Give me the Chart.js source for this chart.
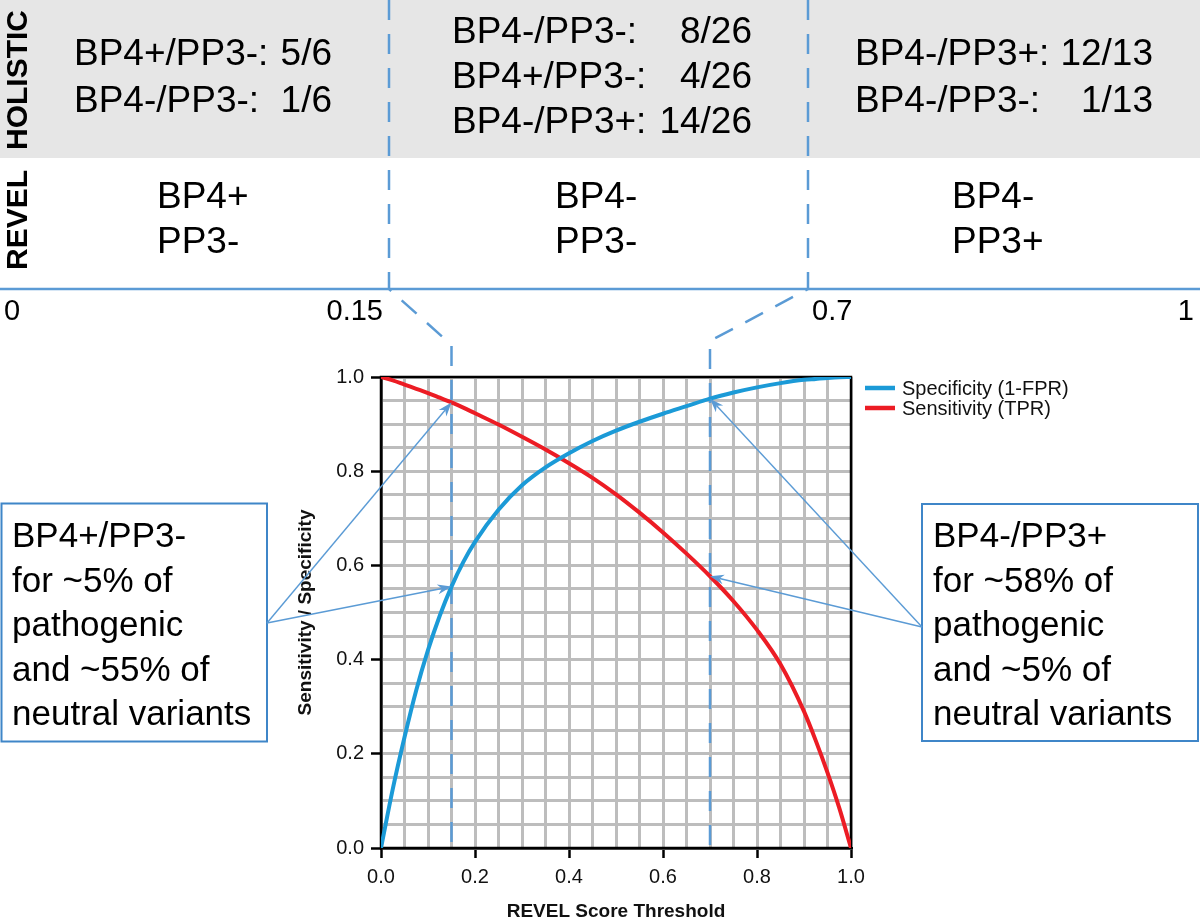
<!DOCTYPE html>
<html>
<head>
<meta charset="utf-8">
<title>REVEL thresholds</title>
<script src="https://cdn.jsdelivr.net/npm/chart.js@4.4.1/dist/chart.umd.min.js"></script>
<style>
  html, body { margin: 0; padding: 0; background: #fff; }
  #wrap { width: 1200px; height: 921px; }
</style>
</head>
<body>
<div id="wrap"><canvas id="roc" width="1200" height="921"></canvas></div>
<script>
// values
var thresholds  = [0, 0.025, 0.05, 0.075, 0.1, 0.125, 0.15, 0.175, 0.2, 0.25, 0.3, 0.35, 0.4, 0.45, 0.5, 0.55, 0.6, 0.65, 0.7, 0.75, 0.8, 0.85, 0.9, 0.925, 0.95, 0.975, 1];
var specificity = [0, 0.125, 0.235, 0.335, 0.42, 0.493, 0.555, 0.607, 0.65, 0.718, 0.77, 0.808, 0.838, 0.864, 0.886, 0.905, 0.922, 0.938, 0.954, 0.967, 0.978, 0.987, 0.994, 0.996, 0.998, 0.9995, 1];
var sensitivity = [1, 0.993, 0.984, 0.975, 0.966, 0.956, 0.946, 0.935, 0.923, 0.899, 0.873, 0.846, 0.817, 0.786, 0.751, 0.712, 0.67, 0.625, 0.577, 0.524, 0.463, 0.39, 0.29, 0.228, 0.16, 0.085, 0];
var seriesNames = ['Specificity (1-FPR)', 'Sensitivity (TPR)'];

var cutoffs = [0.15, 0.7];
var topTickLabels = ['0', '0.15', '0.7', '1'];

var holisticRows = [
  [['BP4+/PP3-:', '5/6'], ['BP4-/PP3-:', '1/6']],
  [['BP4-/PP3-:', '8/26'], ['BP4+/PP3-:', '4/26'], ['BP4-/PP3+:', '14/26']],
  [['BP4-/PP3+:', '12/13'], ['BP4-/PP3-:', '1/13']]
];
var revelCalls = [['BP4+', 'PP3-'], ['BP4-', 'PP3-'], ['BP4-', 'PP3+']];
var noteLeft  = ['BP4+/PP3-', 'for ~5% of', 'pathogenic', 'and ~55% of', 'neutral variants'];
var noteRight = ['BP4-/PP3+', 'for ~58% of', 'pathogenic', 'and ~5% of', 'neutral variants'];

var FONT = '"Liberation Sans", Arial, sans-serif';
var LINK_BLUE = '#5b9bd5';
var BOX_BLUE = '#3f86c8';
var SPEC_COLOR = '#1b9ad7';
var SENS_COLOR = '#ec1c24';

function isMajor(v) {
  var r = v / 0.2;
  return Math.abs(r - Math.round(r)) < 1e-6;
}

function points(ys) {
  var out = [];
  for (var i = 0; i < thresholds.length; i++) out.push({x: thresholds[i], y: ys[i]});
  return out;
}

function valueAt(ys, t) {
  for (var i = 0; i < thresholds.length; i++) {
    if (Math.abs(thresholds[i] - t) < 1e-9) return ys[i];
  }
  return null;
}

function arrow(ctx, x0, y0, x1, y1) {
  var a = Math.atan2(y1 - y0, x1 - x0);
  var len = 14, half = 5;
  ctx.beginPath();
  ctx.moveTo(x0, y0);
  ctx.lineTo(x1 - Math.cos(a) * len * 0.7, y1 - Math.sin(a) * len * 0.7);
  ctx.stroke();
  ctx.beginPath();
  ctx.moveTo(x1, y1);
  ctx.lineTo(x1 - Math.cos(a) * len - Math.sin(a) * half, y1 - Math.sin(a) * len + Math.cos(a) * half);
  ctx.lineTo(x1 - Math.cos(a) * len * 0.7, y1 - Math.sin(a) * len * 0.7);
  ctx.lineTo(x1 - Math.cos(a) * len + Math.sin(a) * half, y1 - Math.sin(a) * len - Math.cos(a) * half);
  ctx.closePath();
  ctx.fill();
}

// where the cutoffs sit on the schematic axis at the top
var topCutX = [389, 808];

var overlay = {
  id: 'overlay',
  beforeDraw: function (chart) {
    var ctx = chart.ctx;
    ctx.save();
    ctx.fillStyle = '#fff';
    ctx.fillRect(0, 0, chart.width, chart.height);
    ctx.fillStyle = '#e6e6e6';
    ctx.fillRect(0, 0, chart.width, 158);
    ctx.restore();
  },
  beforeDatasetsDraw: function (chart) {
    var ctx = chart.ctx, area = chart.chartArea, xs = chart.scales.x;
    ctx.save();
    // frame
    ctx.strokeStyle = '#000';
    ctx.lineWidth = 2.5;
    ctx.strokeRect(area.left, area.top, area.right - area.left, area.bottom - area.top);
    // dashed cutoff lines, from the top schematic down through the plot
    var bendY = [345, 341];
    ctx.strokeStyle = LINK_BLUE;
    ctx.lineWidth = 2.5;
    ctx.setLineDash([20, 14]);
    for (var i = 0; i < cutoffs.length; i++) {
      var px = xs.getPixelForValue(cutoffs[i]);
      ctx.beginPath();
      ctx.moveTo(topCutX[i], 0);
      ctx.lineTo(topCutX[i], 289);
      ctx.lineTo(px, bendY[i]);
      ctx.lineTo(px, area.bottom);
      ctx.stroke();
    }
    ctx.restore();
  },
  afterDraw: function (chart) {
    var ctx = chart.ctx, xs = chart.scales.x, ys = chart.scales.y;
    var i, j;
    ctx.save();

    // schematic axis
    ctx.strokeStyle = LINK_BLUE;
    ctx.lineWidth = 2.5;
    ctx.beginPath();
    ctx.moveTo(0, 289);
    ctx.lineTo(1200, 289);
    ctx.stroke();

    ctx.fillStyle = '#000';
    ctx.textBaseline = 'alphabetic';
    ctx.font = '29px ' + FONT;
    var tickPos = [[4, 'left'], [383, 'right'], [812, 'left'], [1194, 'right']];
    for (i = 0; i < topTickLabels.length; i++) {
      ctx.textAlign = tickPos[i][1];
      ctx.fillText(topTickLabels[i], tickPos[i][0], 320);
    }

    // row titles
    ctx.font = 'bold 30px ' + FONT;
    ctx.textAlign = 'center';
    ctx.textBaseline = 'middle';
    [['HOLISTIC', 80], ['REVEL', 220]].forEach(function (r) {
      ctx.save();
      ctx.translate(19, r[1]);
      ctx.rotate(-Math.PI / 2);
      ctx.fillText(r[0], 0, 0);
      ctx.restore();
    });

    // holistic counts
    ctx.font = '37px ' + FONT;
    ctx.textBaseline = 'alphabetic';
    var colL = [74, 452, 855], colR = [332, 752, 1153];
    var rowY = [[65, 112], [43, 88, 133], [65, 112]];
    for (i = 0; i < holisticRows.length; i++) {
      for (j = 0; j < holisticRows[i].length; j++) {
        ctx.textAlign = 'left';
        ctx.fillText(holisticRows[i][j][0], colL[i], rowY[i][j]);
        ctx.textAlign = 'right';
        ctx.fillText(holisticRows[i][j][1], colR[i], rowY[i][j]);
      }
    }

    // revel calls
    var revX = [157, 555, 952];
    ctx.textAlign = 'left';
    for (i = 0; i < revelCalls.length; i++) {
      ctx.fillText(revelCalls[i][0], revX[i], 208);
      ctx.fillText(revelCalls[i][1], revX[i], 253);
    }

    // legend
    ctx.font = '20px ' + FONT;
    ctx.textBaseline = 'middle';
    chart.data.datasets.forEach(function (ds, k) {
      var ly = 388 + k * 20;
      ctx.strokeStyle = ds.borderColor;
      ctx.lineWidth = 4.5;
      ctx.beginPath();
      ctx.moveTo(865, ly);
      ctx.lineTo(895, ly);
      ctx.stroke();
      ctx.fillStyle = '#111';
      ctx.fillText(ds.label, 902, ly + 1);
    });

    // note boxes
    ctx.strokeStyle = BOX_BLUE;
    ctx.lineWidth = 2;
    ctx.strokeRect(1.5, 503.5, 265.5, 238);
    ctx.strokeRect(922, 504, 276, 237);
    ctx.fillStyle = '#000';
    ctx.font = '35px ' + FONT;
    ctx.textBaseline = 'alphabetic';
    for (i = 0; i < noteLeft.length; i++) {
      ctx.fillText(noteLeft[i], 12, 547 + i * 44.5);
      ctx.fillText(noteRight[i], 933, 547 + i * 44.5);
    }

    // arrows from the boxes to the curves at the cutoffs
    ctx.strokeStyle = LINK_BLUE;
    ctx.fillStyle = LINK_BLUE;
    ctx.lineWidth = 1.4;
    var lx = xs.getPixelForValue(cutoffs[0]), rx = xs.getPixelForValue(cutoffs[1]);
    arrow(ctx, 267, 623, lx, ys.getPixelForValue(valueAt(sensitivity, cutoffs[0])));
    arrow(ctx, 267, 623, lx, ys.getPixelForValue(valueAt(specificity, cutoffs[0])));
    arrow(ctx, 922, 627, rx, ys.getPixelForValue(valueAt(specificity, cutoffs[1])));
    arrow(ctx, 922, 627, rx, ys.getPixelForValue(valueAt(sensitivity, cutoffs[1])));

    ctx.restore();
  }
};

function axisOptions(title, fitFn) {
  return {
    type: 'linear',
    min: 0,
    max: 1,
    afterFit: fitFn,
    ticks: {
      stepSize: 0.05,
      autoSkip: false,
      maxRotation: 0,
      padding: 7,
      color: '#111',
      font: {family: FONT, size: 20},
      callback: function (v) { return isMajor(v) ? (Math.round(v * 10) / 10).toFixed(1) : ''; }
    },
    grid: {
      color: '#bdbdbd',
      lineWidth: 3,
      tickLength: 10,
      tickWidth: 2.5,
      tickColor: function (c) { return c.tick && isMajor(c.tick.value) ? '#000' : 'rgba(0,0,0,0)'; }
    },
    border: {display: true, color: '#000', width: 2.5},
    title: {
      display: true,
      text: title,
      color: '#111',
      font: {family: FONT, size: 19, weight: 'bold', lineHeight: 1},
      padding: {top: 0, bottom: 0}
    }
  };
}

var chart = new Chart(document.getElementById('roc'), {
  type: 'line',
  data: {
    datasets: [
      {label: seriesNames[0], data: points(specificity), borderColor: SPEC_COLOR, borderWidth: 4, pointRadius: 0, cubicInterpolationMode: 'monotone', fill: false},
      {label: seriesNames[1], data: points(sensitivity), borderColor: SENS_COLOR, borderWidth: 4, pointRadius: 0, cubicInterpolationMode: 'monotone', fill: false}
    ]
  },
  options: {
    responsive: false,
    animation: false,
    layout: {padding: {left: 296, right: 349, top: 377, bottom: 0}},
    plugins: {legend: {display: false}, tooltip: {enabled: false}},
    scales: {
      x: axisOptions('REVEL Score Threshold', function (s) { s.height = 73; }),
      y: axisOptions('Sensitivity / Specificity', function (s) { s.width = 85; })
    }
  },
  plugins: [overlay]
});
</script>
</body>
</html>
